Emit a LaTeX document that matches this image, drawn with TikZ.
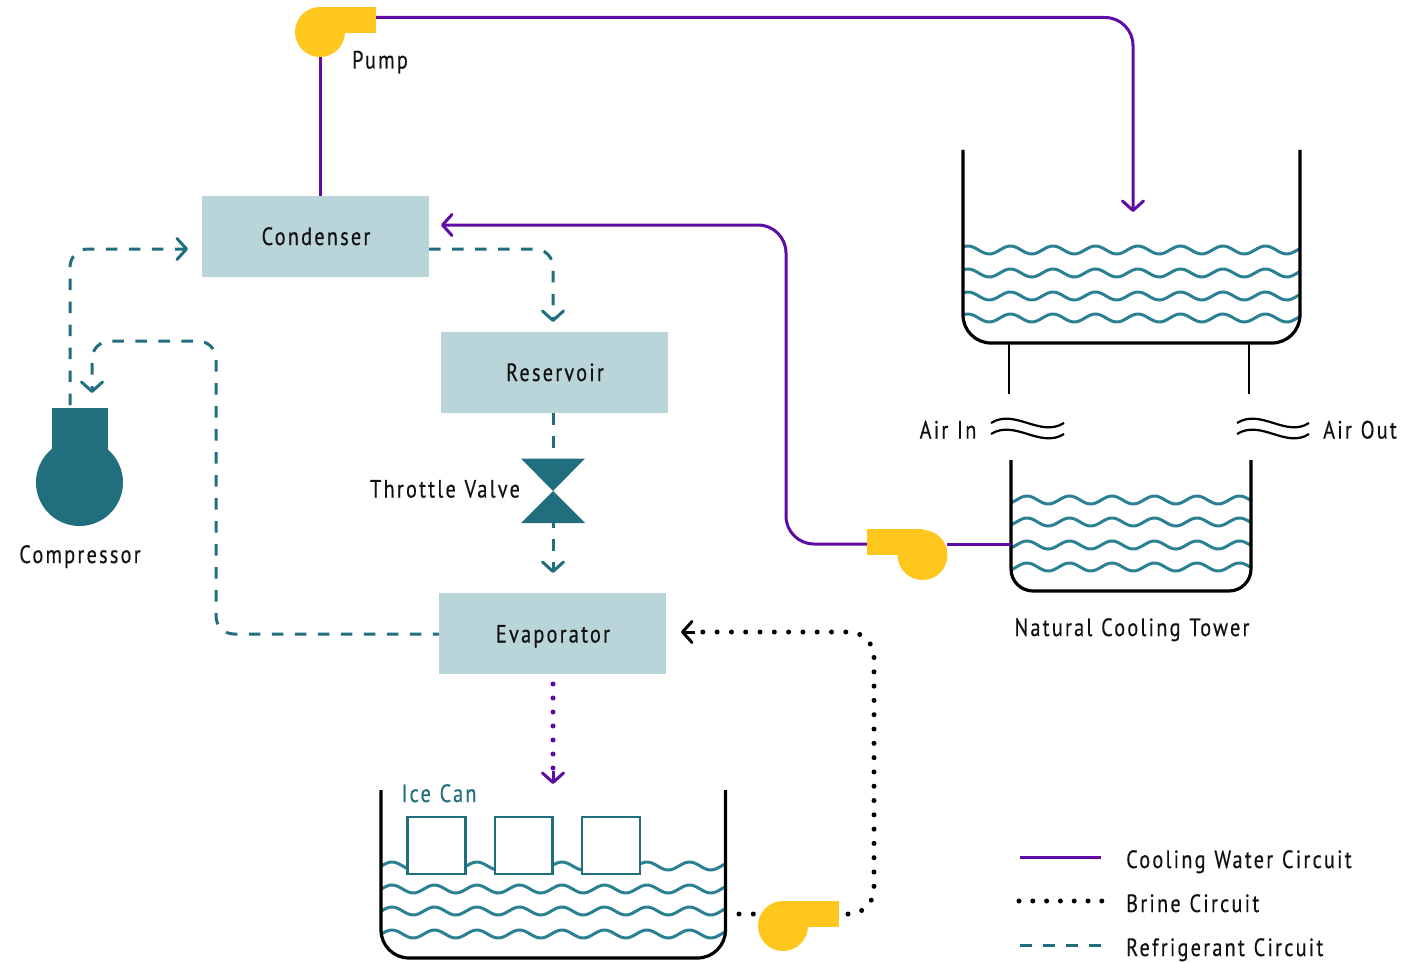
\documentclass[tikz,border=0pt]{standalone}
\usepackage{fontspec}
\setmainfont[LetterSpace=9,FakeStretch=0.81,FakeBold=0.4,WordSpace=1.15]{PT Sans}
\usetikzlibrary{arrows.meta}
\definecolor{boxfill}{HTML}{BAD5D9}
\definecolor{pumpc}{HTML}{FFC61E}
\definecolor{tealdark}{HTML}{216E7E}
\definecolor{wavec}{HTML}{2B8094}
\definecolor{purp}{HTML}{5F0BA6}
\definecolor{ink}{HTML}{111111}
\newcommand{\wavy}[4]{\draw[waveline] plot[domain=#1:#2,samples=120] (\x,{#3-4*cos(8.4706*(\x-#4))});}
\tikzset{
  x=1pt,y=-1pt,
  boxnode/.style={fill=boxfill,minimum width=227pt,minimum height=81pt,inner sep=0pt},
  lbl/.style={inner sep=0pt,anchor=base,text=ink,font=\fontsize{25}{28}\selectfont},
  waveline/.style={draw=wavec,line width=3pt},
  tank/.style={draw=black,line width=3.2pt},
  thinl/.style={draw=black,line width=2.2pt},
  cw/.style={draw=purp,line width=3pt},
  ref/.style={draw=tealdark,line width=3pt,dash pattern=on 11.5pt off 11.5pt},
  brine/.style={draw=black,line width=5pt,line cap=round,dash pattern=on 0pt off 14.3pt},
  bar/.style={-{Straight Barb[length=9.5pt,width=21pt,line width=3pt,round]}},
  pumpfill/.style={fill=pumpc},
  icebox/.style={draw=tealdark,line width=2.8pt,fill=white},
}
\begin{document}
\begin{tikzpicture}
\useasboundingbox (0,0) rectangle (1417,963);
% boxes
\node[boxnode] (cond) at (315.5,236.5) {};
\node[boxnode] (res) at (554.5,372.5) {};
\node[boxnode] (evap) at (552.5,633.5) {};
% tanks waves
\foreach \yy in {250,273,296,318} {\wavy{963}{1300}{\yy}{968}}
\foreach \yy in {500,522,545,567} {\wavy{1011}{1252}{\yy}{1027}}
\foreach \yy in {866,889,911,934} {\wavy{381}{726}{\yy}{392}}
% tanks
\draw[tank,rounded corners=28pt] (963,150) -- (963,343) -- (1300,343) -- (1300,150);
\draw[tank,rounded corners=22pt] (1011,460) -- (1011,591) -- (1251,591) -- (1251,460);
\draw[tank,rounded corners=28pt] (381,790) -- (381,958) -- (725.5,958) -- (725.5,790);
\draw[thinl] (1009,343) -- (1009,394);
\draw[thinl] (1249,343) -- (1249,394);
% ice cans
\draw[icebox] (407.5,817) rectangle (465.5,874);
\draw[icebox] (495,817) rectangle (552.5,874);
\draw[icebox] (582,817) rectangle (640,874);
% coordinates
\coordinate (p1s) at (320,57);
\coordinate (p1o) at (376,17.5);
\coordinate (twrin) at (1133,212);
\coordinate (p2o) at (867,544);
\coordinate (p2i) at (947,544);
\coordinate (twr2) at (1011,544);
\coordinate (condin) at (441,225);
\coordinate (p3o) at (848,914);
\coordinate (p3i) at (755,914);
\coordinate (icetank) at (739,914);
\coordinate (evapin) at (681,632);
\coordinate (compo) at (70,405);
\coordinate (compi) at (92,393);
\coordinate (valt) at (553,459);
\coordinate (valb) at (553,516);
% cooling water
\draw[cw] (p1s) -- (p1s |- cond.north);
\draw[cw,bar,rounded corners=28pt] (p1o) -| (twrin);
\draw[cw,bar,rounded corners=28pt] (p2o) -- (786,544) -- (786,225) -- (condin);
\draw[cw] (p2i) -- (twr2);
% refrigerant
\draw[ref,bar,rounded corners=18pt] (compo) -- (70,249) -- (188,249);
\draw[ref,bar,rounded corners=18pt] (cond.east |- 0,249) -- (553,249) -- (553,322);
\draw[ref] (res.south -| 553,0) -- (valt);
\draw[ref,bar] (valb) -- (553,573);
\draw[ref,dash phase=5.5pt,bar,rounded corners=18pt] (evap.west |- 0,634) -- (216,634) -- (216,341) -- (92,341) -- (compi);
% pumps, compressor, valve
\fill[pumpfill] (320,32) circle[radius=25];
\fill[pumpfill] (320,7) rectangle (376,33);
\fill[pumpfill] (922.5,555) circle[radius=25];
\fill[pumpfill] (867,529) rectangle (922.5,555);
\fill[pumpfill] (783,926) circle[radius=25];
\fill[pumpfill] (783,901) rectangle (839,927);
\fill[tealdark] (79.5,482.5) circle[radius=43.5];
\fill[tealdark] (52,408) rectangle (108,460);
\fill[tealdark] (521,458.5) -- (585,458.5) -- (553,491) -- cycle;
\fill[tealdark] (553,491) -- (585,523) -- (521,523) -- cycle;
% evaporator to ice can
\draw[draw=purp,line width=5pt,line cap=round,dash pattern=on 0pt off 14pt] (553,684) -- (553,770);
\draw[cw,bar] (553,771) -- (553,784);
% brine
\draw[brine,rounded corners=25pt] (p3o) -- (874,914) -- (874,632) -- (695,632);
\draw[cw,draw=black,bar] (695,632) -- (evapin);
\draw[brine] (icetank) -- (p3i);
% air
\draw[thinl] (991,423) .. controls (1015,408) and (1040,438) .. (1064,423);
\draw[thinl] (991,434) .. controls (1015,419) and (1040,449) .. (1064,434);
\draw[thinl] (1237,423) .. controls (1261,408) and (1286,438) .. (1309,423);
\draw[thinl] (1237,434) .. controls (1261,419) and (1286,449) .. (1309,434);
% labels
\node[lbl] (lcond) at (316,245) {Condenser};
\node[lbl] (lres) at (555,381) {Reservoir};
\node[lbl] (levap) at (553,642.5) {Evaporator};
\node[lbl] (lpump) at (380,68.5) {Pump};
\node[lbl] (lvalve) at (445,497.5) {Throttle Valve};
\node[lbl] (lcomp) at (80,563) {Compressor};
\node[lbl] (lin) at (948,438.5) {Air In};
\node[lbl] (lout) at (1360,438.5) {Air Out};
\node[lbl] (ltow) at (1132,636) {Natural Cooling Tower};
\node[lbl,text=tealdark] (lice) at (439,802) {Ice Can};
% legend
\coordinate (a1) at (1020,857); \coordinate (b1) at (1101,857);
\coordinate (a2) at (1019,901); \coordinate (b2) at (1103,901);
\coordinate (a3) at (1020,945); \coordinate (b3) at (1101,945);
\draw[cw] (a1) -- (b1);
\draw[brine,dash pattern=on 0pt off 13.8pt] (a2) -- (b2);
\draw[ref] (a3) -- (b3);
\node[lbl,anchor=base west] (l1) at (1126,868) {Cooling Water Circuit};
\node[lbl,anchor=base west] (l2) at (1126,912) {Brine Circuit};
\node[lbl,anchor=base west] (l3) at (1126,956) {Refrigerant Circuit};
\end{tikzpicture}
\end{document}
